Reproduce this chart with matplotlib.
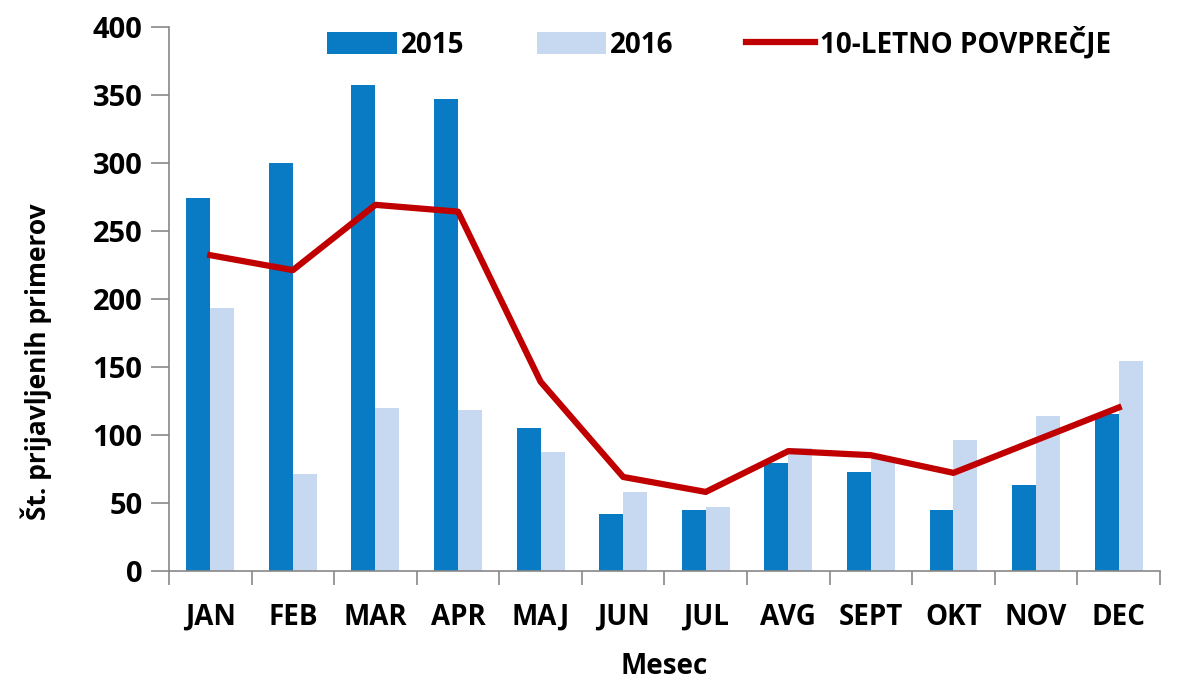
import numpy as np
import matplotlib.pyplot as plt

months = ['JAN', 'FEB', 'MAR', 'APR', 'MAJ', 'JUN', 'JUL', 'AVG', 'SEPT', 'OKT', 'NOV', 'DEC']
y2015 = [274, 300, 357, 347, 105, 42, 45, 79, 73, 45, 63, 115]
y2016 = [193, 71, 120, 118, 87, 58, 47, 90, 83, 96, 114, 154]
avg10 = [232, 221, 269, 264, 139, 69, 58, 88, 85, 72, 96, 120]

plt.rcParams['font.family'] = ['Open Sans', 'DejaVu Sans']
plt.rcParams['font.weight'] = 'bold'
plt.rcParams['axes.labelweight'] = 'bold'

fig = plt.figure(figsize=(11.86, 6.82), dpi=100)
ax = fig.add_axes([0.1425, 0.163, 0.8355, 0.798])

x = np.arange(len(months))
w = 0.29
b1 = ax.bar(x - w / 2, y2015, w, color='#087BC4', label='2015')
b2 = ax.bar(x + w / 2, y2016, w, color='#C6D9F1', label='2016')
ln, = ax.plot(x, avg10, color='#C00000', lw=4.5, label='10-LETNO POVPREČJE')

ax.set_xlim(-0.5, 11.5)
ax.set_ylim(0, 400)
ax.set_yticks(range(0, 401, 50))
ax.tick_params(axis='y', length=13, width=1.2, color='#888888', labelsize=21, pad=6)

# category boundaries get the tick marks, labels sit in the middle
ax.set_xticks(np.arange(-0.5, 12, 1))
ax.set_xticklabels([])
ax.set_xticks(x, minor=True)
ax.set_xticklabels(months, minor=True, fontsize=20)
ax.tick_params(axis='x', which='major', length=10, width=1.2, color='#888888')
ax.tick_params(axis='x', which='minor', length=0, pad=23)

for s in ['top', 'right']:
    ax.spines[s].set_visible(False)
for s in ['left', 'bottom']:
    ax.spines[s].set_color('#888888')
    ax.spines[s].set_linewidth(1.2)

ax.set_ylabel('Št. prijavljenih primerov', fontsize=19)
ax.yaxis.set_label_coords(-0.118, 0.385)
ax.set_xlabel('Mesec', fontsize=20)
ax.xaxis.set_label_coords(0.5, -0.15)

ax.legend([b1, b2, ln], ['2015', '2016', '10-LETNO POVPREČJE'],
          loc='upper center', bbox_to_anchor=(0.555, 1.045), ncol=3, frameon=False,
          fontsize=20, handlelength=2.5, handleheight=0.8, columnspacing=2.6, handletextpad=0.15)

fig.savefig('out.png', dpi=100)
